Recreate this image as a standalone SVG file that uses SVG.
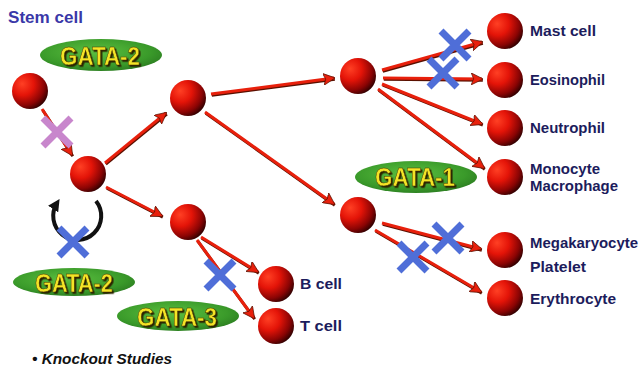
<svg xmlns="http://www.w3.org/2000/svg" width="642" height="373" viewBox="0 0 642 373">
<defs>
<radialGradient id="ball" cx="0.32" cy="0.32" r="0.78" fx="0.28" fy="0.3">
<stop offset="0" stop-color="#ff4024"/>
<stop offset="0.4" stop-color="#e41408"/>
<stop offset="0.75" stop-color="#8a0404"/>
<stop offset="1" stop-color="#200000"/>
</radialGradient>
<radialGradient id="oval" cx="0.45" cy="0.4" r="0.65">
<stop offset="0" stop-color="#5cc040"/>
<stop offset="0.7" stop-color="#3a9a2a"/>
<stop offset="1" stop-color="#2a7a20"/>
</radialGradient>
<filter id="tsh" x="-10%" y="-20%" width="130%" height="150%">
<feDropShadow dx="1.6" dy="1.6" stdDeviation="0.3" flood-color="#2a2000"/>
</filter>
<marker id="ah" viewBox="0 0 10 10" refX="9" refY="5" markerWidth="4" markerHeight="4" orient="auto" markerUnits="strokeWidth">
<path d="M0,0 L10,5 L0,10 L2,5 Z" fill="#e8200c" stroke="#5a1000" stroke-width="0.6"/>
</marker>
<marker id="bh" viewBox="0 0 10 10" refX="6" refY="5" markerWidth="3" markerHeight="3" orient="auto" markerUnits="strokeWidth">
<path d="M0,0 L10,5 L0,10 Z" fill="#111"/>
</marker>
</defs>
<style>
.cell{fill:url(#ball);}
.ar{stroke:#e8200c;stroke-width:3;fill:none;marker-end:url(#ah);}
.sh{stroke:#5a1000;stroke-width:3;fill:none;}
.lbl{font-family:"Liberation Sans",Arial,sans-serif;font-weight:bold;font-size:15px;fill:#1c1c5c;}
.gata{font-family:"Liberation Sans",Arial,sans-serif;font-weight:bold;font-size:25px;fill:#f4e428;stroke:#403000;stroke-width:0.5;filter:url(#tsh);}
.xb{stroke:#4f6ed8;stroke-width:7;stroke-linecap:butt;}
.xp{stroke:#c886cc;stroke-width:7;stroke-linecap:butt;}
</style>
<rect width="642" height="373" fill="#ffffff"/>
<text x="8" y="23" font-family="Liberation Sans,Arial,sans-serif" font-weight="bold" font-size="17" fill="#3a38a8" textLength="75" lengthAdjust="spacingAndGlyphs">Stem cell</text>
<g id="ovals">
<g id="gata2-top"><ellipse cx="101" cy="55" rx="61" ry="16" fill="url(#oval)"/><text class="gata" x="60" y="65" textLength="80" lengthAdjust="spacingAndGlyphs">GATA-2</text></g>
<g id="gata2-bottom"><ellipse cx="74" cy="282" rx="61" ry="14" fill="url(#oval)"/><text class="gata" x="35" y="292" textLength="78" lengthAdjust="spacingAndGlyphs">GATA-2</text></g>
<g id="gata3"><ellipse cx="178" cy="316" rx="61" ry="15" fill="url(#oval)"/><text class="gata" x="137" y="326" textLength="80" lengthAdjust="spacingAndGlyphs">GATA-3</text></g>
<g id="gata1"><ellipse cx="416" cy="177" rx="61" ry="16" fill="url(#oval)"/><text class="gata" x="375" y="186" textLength="80" lengthAdjust="spacingAndGlyphs">GATA-1</text></g>
</g>
<g id="connectors">
<g transform="translate(0.8 1.2)">
<path class="sh" d="M42 109 L72 155"/>
<path class="sh" d="M105 163 L166 113"/>
<path class="sh" d="M106 187 L162 216"/>
<path class="sh" d="M211 94 L334 78"/>
<path class="sh" d="M205 112 L334 204"/>
<path class="sh" d="M201 237 L258 272"/>
<path class="sh" d="M197 240 L254 318"/>
<path class="sh" d="M382 70 L482 42"/>
<path class="sh" d="M383 78 L482 79"/>
<path class="sh" d="M382 84 L482 124"/>
<path class="sh" d="M378 89 L484 168"/>
<path class="sh" d="M382 223 L481 249"/>
<path class="sh" d="M375 230 L481 292"/>
</g>
<path class="ar" d="M42 109 L72 155"/>
<path class="ar" d="M105 163 L166 113"/>
<path class="ar" d="M106 187 L162 216"/>
<path class="ar" d="M211 94 L334 78"/>
<path class="ar" d="M205 112 L334 204"/>
<path class="ar" d="M201 237 L258 272"/>
<path class="ar" d="M197 240 L254 318"/>
<path class="ar" d="M382 70 L482 42"/>
<path class="ar" d="M383 78 L482 79"/>
<path class="ar" d="M382 84 L482 124"/>
<path class="ar" d="M378 89 L484 168"/>
<path class="ar" d="M382 223 L481 249"/>
<path class="ar" d="M375 230 L481 292"/>
<path d="M96 201 A24 24 0 1 1 57 203" fill="none" stroke="#111" stroke-width="4" marker-end="url(#bh)"/>
</g>
<g id="cells">
<g id="stem"><circle class="cell" cx="30" cy="91" r="18"/></g>
<g id="c2"><circle class="cell" cx="88" cy="174" r="18"/></g>
<g id="c3"><circle class="cell" cx="188" cy="98" r="18"/></g>
<g id="c4"><circle class="cell" cx="188" cy="222" r="18"/></g>
<g id="c5"><circle class="cell" cx="358" cy="76" r="18"/></g>
<g id="c6"><circle class="cell" cx="358" cy="215" r="18"/></g>
<g id="mast"><circle class="cell" cx="505" cy="31" r="18"/><text class="lbl" x="530" y="36" textLength="66" lengthAdjust="spacingAndGlyphs">Mast cell</text></g>
<g id="eos"><circle class="cell" cx="505" cy="80" r="18"/><text class="lbl" x="530" y="85" textLength="75" lengthAdjust="spacingAndGlyphs">Eosinophil</text></g>
<g id="neut"><circle class="cell" cx="505" cy="128" r="18"/><text class="lbl" x="530" y="133" textLength="75" lengthAdjust="spacingAndGlyphs">Neutrophil</text></g>
<g id="mono"><circle class="cell" cx="505" cy="177" r="18"/><text class="lbl" x="530" y="174" textLength="70" lengthAdjust="spacingAndGlyphs">Monocyte</text><text class="lbl" x="530" y="191" textLength="88" lengthAdjust="spacingAndGlyphs">Macrophage</text></g>
<g id="mega"><circle class="cell" cx="505" cy="250" r="18"/><text class="lbl" x="530" y="248" textLength="108" lengthAdjust="spacingAndGlyphs">Megakaryocyte</text><text class="lbl" x="530" y="272" textLength="56" lengthAdjust="spacingAndGlyphs">Platelet</text></g>
<g id="ery"><circle class="cell" cx="505" cy="298" r="18"/><text class="lbl" x="530" y="304" textLength="86" lengthAdjust="spacingAndGlyphs">Erythrocyte</text></g>
<g id="bcell"><circle class="cell" cx="276" cy="284" r="18"/><text class="lbl" x="300" y="289" textLength="42" lengthAdjust="spacingAndGlyphs">B cell</text></g>
<g id="tcell"><circle class="cell" cx="276" cy="326" r="18"/><text class="lbl" x="300" y="331" textLength="42" lengthAdjust="spacingAndGlyphs">T cell</text></g>
</g>
<g id="crosses">
<g id="x-pink"><path class="xp" d="M43 118 L71 146 M71 118 L43 146"/></g>
<g id="x-loop"><path class="xb" d="M59 228 L87 256 M87 228 L59 256"/></g>
<g id="x-bt"><path class="xb" d="M206 261 L234 289 M234 261 L206 289"/></g>
<g id="x-mast"><path class="xb" d="M441 31 L469 59 M469 31 L441 59"/></g>
<g id="x-eos"><path class="xb" d="M429 59 L457 87 M457 59 L429 87"/></g>
<g id="x-mega"><path class="xb" d="M434 224 L462 252 M462 224 L434 252"/></g>
<g id="x-ery"><path class="xb" d="M399 243 L427 271 M427 243 L399 271"/></g>
</g>
<text x="32" y="364" font-family="Liberation Sans,Arial,sans-serif" font-weight="bold" font-style="italic" font-size="15" fill="#111" textLength="140" lengthAdjust="spacingAndGlyphs">• Knockout Studies</text>
</svg>
